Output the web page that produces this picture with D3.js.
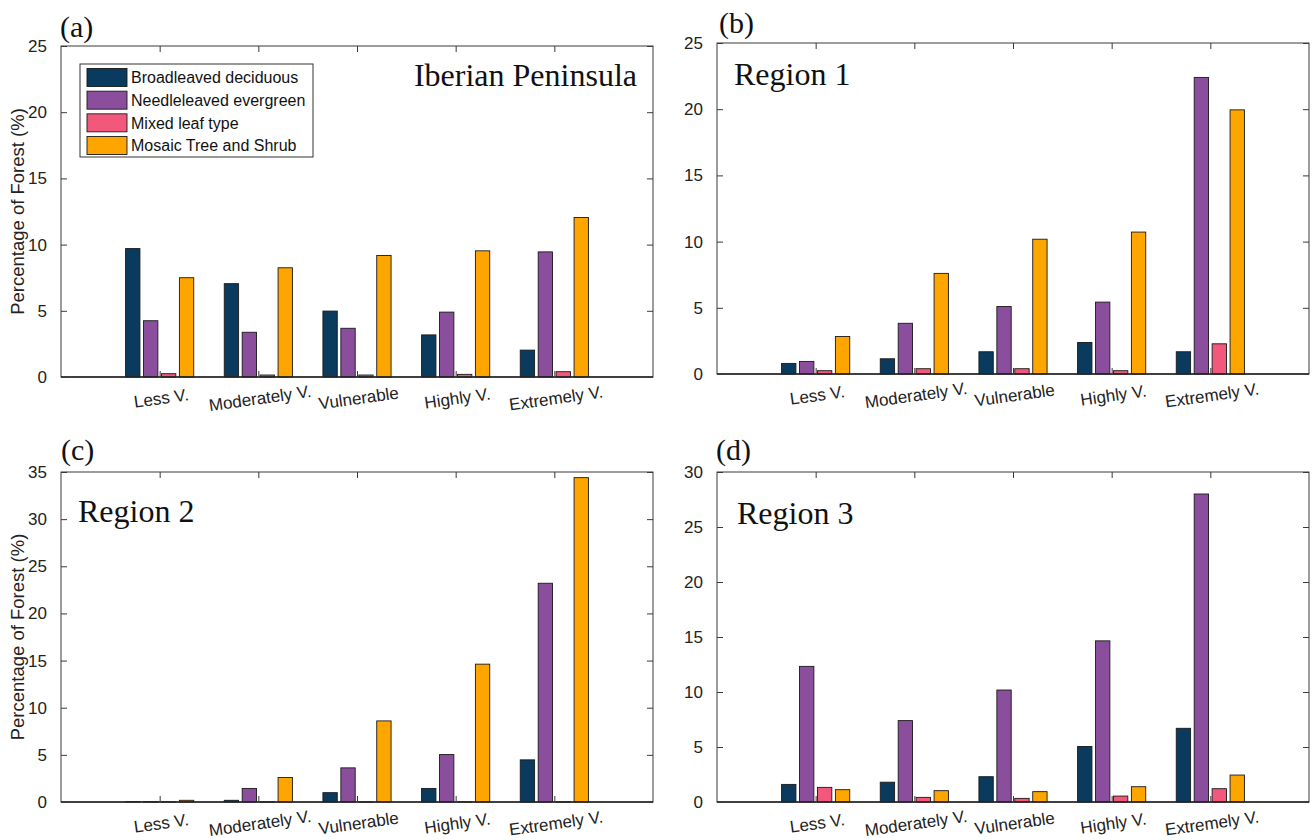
<!DOCTYPE html>
<html>
<head>
<meta charset="utf-8">
<script src="https://cdn.jsdelivr.net/npm/d3@7"></script>
<style>
  html, body { margin: 0; padding: 0; background: #fff; }
  svg { display: block; }
</style>
</head>
<body>
<svg id="chart" width="1312" height="840"></svg>
<script>
// Vulnerability classes on the x axis
const categories = ["Less V.", "Moderately V.", "Vulnerable", "Highly V.", "Extremely V."];

// Forest types (series)
const seriesNames = ["Broadleaved deciduous", "Needleleaved evergreen", "Mixed leaf type", "Mosaic Tree and Shrub"];
const seriesColors = ["#0a3a5e", "#8a4e9c", "#f2587c", "#ffa500"];

// Percentage of forest, one array per forest type, per panel
// (a) Iberian Peninsula
const iberianBroad  = [9.7, 7.05, 4.98, 3.18, 2.03];
const iberianNeedle = [4.25, 3.38, 3.68, 4.9, 9.45];
const iberianMixed  = [0.25, 0.15, 0.15, 0.2, 0.4];
const iberianMosaic = [7.5, 8.25, 9.18, 9.53, 12.05];

// (b) Region 1
const region1Broad  = [0.8, 1.15, 1.68, 2.38, 1.68];
const region1Needle = [0.95, 3.83, 5.1, 5.43, 22.4];
const region1Mixed  = [0.25, 0.4, 0.4, 0.25, 2.28];
const region1Mosaic = [2.83, 7.6, 10.18, 10.72, 19.95];

// (c) Region 2
const region2Broad  = [0.04, 0.18, 0.99, 1.44, 4.47];
const region2Needle = [0.04, 1.44, 3.62, 5.03, 23.2];
const region2Mixed  = [0.02, 0.02, 0.02, 0.02, 0.02];
const region2Mosaic = [0.18, 2.6, 8.6, 14.62, 34.4];

// (d) Region 3
const region3Broad  = [1.6, 1.8, 2.3, 5.05, 6.7];
const region3Needle = [12.33, 7.4, 10.18, 14.65, 28.0];
const region3Mixed  = [1.33, 0.42, 0.33, 0.54, 1.21];
const region3Mosaic = [1.12, 1.03, 0.94, 1.39, 2.45];

// Y tick values per panel
const ticksA = [0, 5, 10, 15, 20, 25];
const ticksB = [0, 5, 10, 15, 20, 25];
const ticksC = [0, 5, 10, 15, 20, 25, 30, 35];
const ticksD = [0, 5, 10, 15, 20, 25, 30];

const panels = [
  { tag: "(a)", title: "Iberian Peninsula", titleAnchor: "end",
    series: [iberianBroad, iberianNeedle, iberianMixed, iberianMosaic], ticks: ticksA,
    box: { x0: 61, x1: 653, y0: 46, y1: 377 }, tagPos: [60, 37], titlePos: [637, 86],
    legend: true, yTitle: true },
  { tag: "(b)", title: "Region 1", titleAnchor: "start",
    series: [region1Broad, region1Needle, region1Mixed, region1Mosaic], ticks: ticksB,
    box: { x0: 717, x1: 1309, y0: 43, y1: 374 }, tagPos: [719, 33], titlePos: [734, 85],
    legend: false, yTitle: false },
  { tag: "(c)", title: "Region 2", titleAnchor: "start",
    series: [region2Broad, region2Needle, region2Mixed, region2Mosaic], ticks: ticksC,
    box: { x0: 61, x1: 653, y0: 472, y1: 802 }, tagPos: [61, 460], titlePos: [78, 522],
    legend: false, yTitle: true },
  { tag: "(d)", title: "Region 3", titleAnchor: "start",
    series: [region3Broad, region3Needle, region3Mixed, region3Mosaic], ticks: ticksD,
    box: { x0: 717, x1: 1309, y0: 472, y1: 802 }, tagPos: [716, 460], titlePos: [737, 524],
    legend: false, yTitle: false }
];

const svg = d3.select("#chart");
const sans = "'Liberation Sans', Arial, Helvetica, sans-serif";
const serif = "'Liberation Serif', 'Times New Roman', serif";
const axisColor = "#3a3a3a";
const tickLen = 6;

// Grouped-bar geometry (in x-axis units): 4 bars per group
const nSeries = seriesNames.length;
const groupWidth = Math.min(0.8, nSeries / (nSeries + 1.5));
const slot = groupWidth / nSeries;
const barWidth = slot * 0.8;

panels.forEach(p => {
  const b = p.box;
  const ymax = d3.max(p.ticks);
  const x = d3.scaleLinear().domain([0, categories.length + 1]).range([b.x0, b.x1]);
  const y = d3.scaleLinear().domain([0, ymax]).range([b.y1, b.y0]);
  const g = svg.append("g");

  // Bars
  p.series.forEach((vals, si) => {
    g.append("g").selectAll("rect")
      .data(vals)
      .join("rect")
      .attr("x", (d, i) => x(i + 1 + (si - (nSeries - 1) / 2) * slot - barWidth / 2))
      .attr("width", x(barWidth) - x(0))
      .attr("y", d => y(d))
      .attr("height", d => y(0) - y(d))
      .attr("fill", seriesColors[si])
      .attr("stroke", "#1a1a1a")
      .attr("stroke-width", 0.9);
  });

  // Axis box
  g.append("rect")
    .attr("x", b.x0).attr("y", b.y0)
    .attr("width", b.x1 - b.x0).attr("height", b.y1 - b.y0)
    .attr("fill", "none").attr("stroke", axisColor).attr("stroke-width", 1);
  g.append("line")
    .attr("x1", b.x0).attr("x2", b.x1).attr("y1", b.y1).attr("y2", b.y1)
    .attr("stroke", "#222").attr("stroke-width", 1.4);

  // Y axis (left) using d3 axis, ticks pointing inward
  const yAxis = d3.axisLeft(y).tickValues(p.ticks).tickSize(-tickLen).tickPadding(10 + tickLen - 2);
  const ya = g.append("g").attr("transform", `translate(${b.x0},0)`).call(yAxis);
  ya.select(".domain").remove();
  ya.selectAll(".tick line").attr("stroke", axisColor);
  ya.selectAll(".tick text")
    .attr("font-family", sans).attr("font-size", 17).attr("fill", "#222");

  // Right-side inward ticks
  const yAxisR = d3.axisRight(y).tickValues(p.ticks).tickSize(-tickLen).tickFormat("");
  const yr = g.append("g").attr("transform", `translate(${b.x1},0)`).call(yAxisR);
  yr.select(".domain").remove();
  yr.selectAll(".tick line").attr("stroke", axisColor);

  // Top inward ticks at category positions
  const xTop = d3.axisTop(x).tickValues(d3.range(1, categories.length + 1)).tickSize(-tickLen).tickFormat("");
  const xt = g.append("g").attr("transform", `translate(0,${b.y0})`).call(xTop);
  xt.select(".domain").remove();
  xt.selectAll(".tick line").attr("stroke", axisColor);

  // Bottom inward ticks with rotated category labels
  const xBottom = d3.axisBottom(x).tickValues(d3.range(1, categories.length + 1))
    .tickSize(-tickLen).tickFormat(d => categories[d - 1]);
  const xb = g.append("g").attr("transform", `translate(0,${b.y1})`).call(xBottom);
  xb.select(".domain").remove();
  xb.selectAll(".tick line").attr("stroke", axisColor);
  xb.selectAll(".tick text")
    .attr("font-family", sans).attr("font-size", 17).attr("fill", "#222")
    .attr("text-anchor", "middle")
    .attr("y", 0).attr("dy", 0)
    .attr("transform", "translate(2,27) rotate(-8)");

  // Panel tag
  svg.append("text")
    .attr("x", p.tagPos[0]).attr("y", p.tagPos[1])
    .attr("font-family", serif).attr("font-size", 30).attr("fill", "#111")
    .text(p.tag);

  // Panel title inside the axes
  svg.append("text")
    .attr("x", p.titlePos[0]).attr("y", p.titlePos[1])
    .attr("text-anchor", p.titleAnchor)
    .attr("font-family", serif).attr("font-size", 32).attr("fill", "#111")
    .text(p.title);

  // Y axis title
  if (p.yTitle) {
    svg.append("text")
      .attr("transform", `translate(24,${(b.y0 + b.y1) / 2}) rotate(-90)`)
      .attr("text-anchor", "middle")
      .attr("font-family", sans).attr("font-size", 18.5).attr("fill", "#222")
      .text("Percentage of Forest (%)");
  }

  // Legend
  if (p.legend) {
    const lg = svg.append("g").attr("transform", "translate(80,64)");
    lg.append("rect")
      .attr("x", 0).attr("y", 0).attr("width", 233).attr("height", 93)
      .attr("fill", "#fff").attr("stroke", "#333").attr("stroke-width", 1);
    const rowY = d3.scaleLinear().domain([0, 3]).range([13.5, 81.5]);
    seriesNames.forEach((name, i) => {
      lg.append("rect")
        .attr("x", 7).attr("y", rowY(i) - 9)
        .attr("width", 40).attr("height", 18)
        .attr("fill", seriesColors[i]).attr("stroke", "#1a1a1a").attr("stroke-width", 0.9);
      lg.append("text")
        .attr("x", 51).attr("y", rowY(i))
        .attr("dy", "0.36em")
        .attr("font-family", sans).attr("font-size", 16).attr("fill", "#111")
        .text(name);
    });
  }
});
</script>
</body>
</html>
